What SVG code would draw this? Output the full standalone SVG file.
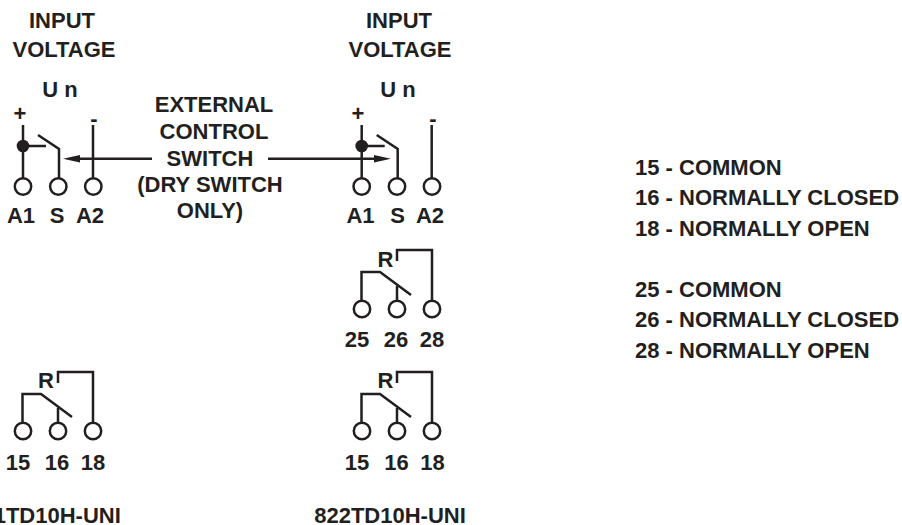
<svg xmlns="http://www.w3.org/2000/svg" xmlns:xlink="http://www.w3.org/1999/xlink" width="902" height="525" viewBox="0 0 902 525">
<style>
text{font-family:"Liberation Sans",Arial,sans-serif;font-weight:700;font-size:22px;fill:#231f20}
.m{text-anchor:middle}
.l{fill:none;stroke:#231f20;stroke-width:2.5}
.c{fill:#fff;stroke:#231f20;stroke-width:2.5}
.d{fill:#231f20}
</style>
<defs>
<g id="relay">
<path class="l" d="M-0.500-8V-37H18L49-14M35-23V-8M70-8V-59H35V-48"/>
<circle class="c" cx="0" cy="0" r="8.200"/><circle class="c" cx="35" cy="0" r="8.200"/><circle class="c" cx="70" cy="0" r="8.200"/>
</g>
<g id="supply">
<path class="l" d="M0 125V178M0 146H23M15 135L36 149V178M70 125V178"/>
<circle class="d" cx="0" cy="146" r="6.300"/>
<circle class="c" cx="0" cy="186.500" r="8.200"/><circle class="c" cx="35.300" cy="186.500" r="8.200"/><circle class="c" cx="70.300" cy="186.500" r="8.200"/>
</g>
</defs>
<rect width="902" height="525" fill="#fff"/>
<g id="node-left-input">
<use xlink:href="#supply" href="#supply" x="23"/>
<text class="m" x="62" y="28">INPUT</text><text class="m" x="64" y="57">VOLTAGE</text>
<text class="m" x="60" y="97">U n</text>
<text class="m" x="20" y="121">+</text><text class="m" x="94" y="126">-</text>
<text class="m" x="21" y="223">A1</text><text class="m" x="57" y="223">S</text><text class="m" x="90" y="223">A2</text>
</g>
<g id="node-right-input">
<use xlink:href="#supply" href="#supply" x="361.700"/>
<text class="m" x="399" y="28">INPUT</text><text class="m" x="400" y="57">VOLTAGE</text>
<text class="m" x="398" y="97">U n</text>
<text class="m" x="358" y="121">+</text><text class="m" x="433" y="126">-</text>
<text class="m" x="360.500" y="223">A1</text><text class="m" x="397.500" y="223">S</text><text class="m" x="430" y="223">A2</text>
</g>
<g id="node-switch-label">
<text class="m" x="214" y="112">EXTERNAL</text><text class="m" x="214" y="139">CONTROL</text><text class="m" x="210" y="166">SWITCH</text><text class="m" x="210" y="192">(DRY SWITCH</text><text class="m" x="210" y="218">ONLY)</text>
</g>
<g id="node-relay-25">
<use xlink:href="#relay" href="#relay" x="362" y="309"/>
<text class="m" x="385.500" y="267">R</text>
<text class="m" x="357" y="347">25</text><text class="m" x="396" y="347">26</text><text class="m" x="432" y="347">28</text>
</g>
<g id="node-relay-15-right">
<use xlink:href="#relay" href="#relay" x="362" y="431"/>
<text class="m" x="385.500" y="388">R</text>
<text class="m" x="357" y="470">15</text><text class="m" x="396.500" y="470">16</text><text class="m" x="432.500" y="470">18</text>
</g>
<g id="node-relay-15-left">
<use xlink:href="#relay" href="#relay" x="23" y="431"/>
<text class="m" x="46" y="388">R</text>
<text class="m" x="18" y="470">15</text><text class="m" x="57" y="470">16</text><text class="m" x="93" y="470">18</text>
</g>
<g id="node-model-left"><text class="m" x="45" y="523">821TD10H-UNI</text></g>
<g id="node-model-right"><text class="m" x="390" y="523">822TD10H-UNI</text></g>
<g id="node-legend">
<text x="635" y="175">15 - COMMON</text><text x="635" y="205">16 - NORMALLY CLOSED</text><text x="635" y="236">18 - NORMALLY OPEN</text>
<text x="635" y="297">25 - COMMON</text><text x="635" y="327">26 - NORMALLY CLOSED</text><text x="635" y="358">28 - NORMALLY OPEN</text>
</g>
<g id="connectors">
<path class="l" d="M78 158.700H152M268 158.700H376"/>
<path class="d" d="M63 158.700L80 155V162.400ZM391 158.700L374 155V162.400Z"/>
</g>
</svg>
